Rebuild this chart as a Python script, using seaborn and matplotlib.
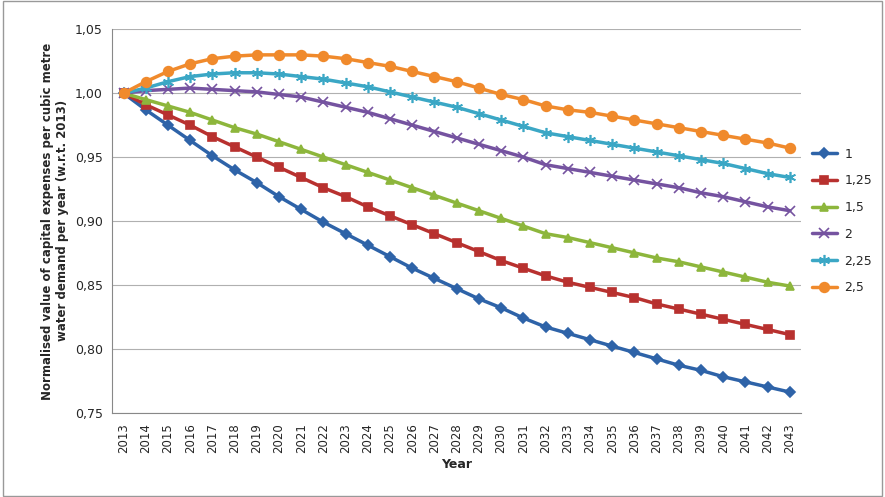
import numpy as np
import pandas as pd
import matplotlib
matplotlib.use("Agg")
import matplotlib.pyplot as plt
import seaborn as sns

years = list(range(2013, 2044))
labels = ["1", "1,25", "1,5", "2", "2,25", "2,5"]
s1 = [1.0, 0.987, 0.975, 0.963, 0.951, 0.940, 0.930, 0.919, 0.909, 0.899, 0.890, 0.881, 0.872, 0.863, 0.855, 0.847,
      0.839, 0.832, 0.824, 0.817, 0.812, 0.807, 0.802, 0.797, 0.792, 0.787, 0.783, 0.778, 0.774, 0.770, 0.766]
s125 = [1.0, 0.991, 0.983, 0.975, 0.966, 0.958, 0.950, 0.942, 0.934, 0.926, 0.919, 0.911, 0.904, 0.897, 0.890, 0.883,
        0.876, 0.869, 0.863, 0.857, 0.852, 0.848, 0.844, 0.840, 0.835, 0.831, 0.827, 0.823, 0.819, 0.815, 0.811]
s15 = [1.0, 0.995, 0.990, 0.985, 0.979, 0.973, 0.968, 0.962, 0.956, 0.950, 0.944, 0.938, 0.932, 0.926, 0.920, 0.914,
       0.908, 0.902, 0.896, 0.890, 0.887, 0.883, 0.879, 0.875, 0.871, 0.868, 0.864, 0.860, 0.856, 0.852, 0.849]
s2 = [1.0, 1.002, 1.003, 1.004, 1.003, 1.002, 1.001, 0.999, 0.997, 0.993, 0.989, 0.985, 0.980, 0.975, 0.970, 0.965,
      0.960, 0.955, 0.950, 0.944, 0.941, 0.938, 0.935, 0.932, 0.929, 0.926, 0.922, 0.919, 0.915, 0.911, 0.908]
s225 = [1.0, 1.004, 1.009, 1.013, 1.015, 1.016, 1.016, 1.015, 1.013, 1.011, 1.008, 1.005, 1.001, 0.997, 0.993, 0.989,
        0.984, 0.979, 0.974, 0.969, 0.966, 0.963, 0.960, 0.957, 0.954, 0.951, 0.948, 0.945, 0.941, 0.937, 0.934]
s25 = [1.0, 1.009, 1.017, 1.023, 1.027, 1.029, 1.030, 1.030, 1.030, 1.029, 1.027, 1.024, 1.021, 1.017, 1.013, 1.009,
       1.004, 0.999, 0.995, 0.990, 0.987, 0.985, 0.982, 0.979, 0.976, 0.973, 0.970, 0.967, 0.964, 0.961, 0.957]
series = [s1, s125, s15, s2, s225, s25]

colors = ["#2E63A8", "#B8312F", "#8DB63C", "#7553A0", "#3BA7C5", "#F08A2C"]
markers = ["D", "s", "^", "x", (6, 2, 0), "o"]
msizes = [5, 6, 6, 7, 8, 7]

sns.set_style("white")
fig = plt.figure(figsize=(8.85, 4.97), dpi=100)
ax = fig.add_axes([0.127, 0.17, 0.778, 0.771])
for lab, vals, c, m, ms in zip(labels, series, colors, markers, msizes):
    df = pd.DataFrame({"Year": years, "v": vals})
    sns.lineplot(data=df, x="Year", y="v", ax=ax, color=c, marker=m, markersize=ms,
                 markeredgecolor=c, markeredgewidth=1.2, linewidth=2.5, label=lab)

ax.set_xlim(2012.5, 2043.5)
ax.set_ylim(0.75, 1.05)
ax.set_yticks(np.arange(0.75, 1.051, 0.05))
ax.set_yticklabels([f"{v:.2f}".replace(".", ",") for v in np.arange(0.75, 1.051, 0.05)], fontsize=9)
ax.set_xticks(years)
ax.set_xticklabels([str(y) for y in years], rotation=90, fontsize=8.5)
ax.yaxis.grid(True, color="#B0B0B0", linewidth=0.8)
for s in ["top", "right"]:
    ax.spines[s].set_visible(False)
ax.spines["left"].set_color("#888888")
ax.spines["bottom"].set_color("#888888")
ax.tick_params(axis="x", length=4, color="#888888")
ax.set_xlabel("Year", fontsize=9, fontweight="bold")
ax.set_ylabel("Normalised value of capital expenses per cubic metre\nwater demand per year (w.r.t. 2013)",
              fontsize=8.5, fontweight="bold")
ax.legend(loc="center left", bbox_to_anchor=(1.005, 0.5), frameon=False, fontsize=9,
          handlelength=2.0, handletextpad=0.6, borderaxespad=0.2, labelspacing=1.1)
fig.patches.append(plt.Rectangle((0.003, 0.003), 0.994, 0.994, transform=fig.transFigure,
                                 fill=False, edgecolor="#999999", linewidth=1))
fig.savefig("out.png", dpi=100)
